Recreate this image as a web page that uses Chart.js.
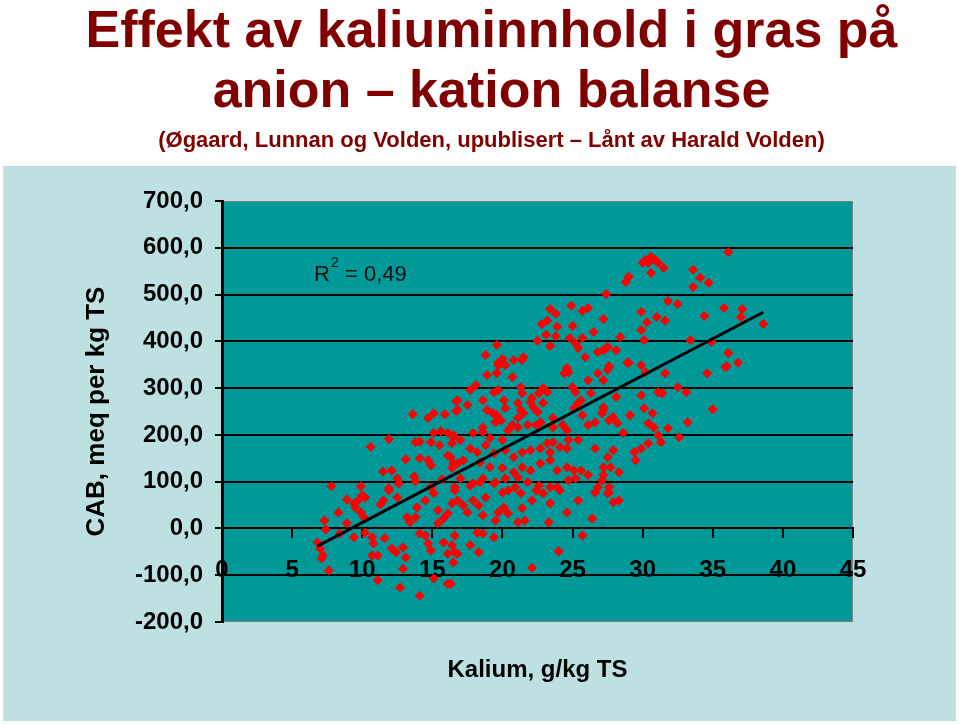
<!DOCTYPE html>
<html>
<head>
<meta charset="utf-8">
<script src="https://cdn.jsdelivr.net/npm/chart.js@4.4.1/dist/chart.umd.min.js"></script>
<style>
  html, body { margin: 0; padding: 0; background: #fff; }
  canvas { display: block; }
</style>
</head>
<body>
<canvas id="graf" width="959" height="724" style="width:959px;height:724px"></canvas>
<script>
// Kalium (g/kg TS) og CAB (meq per kg TS), lest av fra figuren
const kalium = [
  30.6,30.2,30.0,30.9,31.1,31.5,30.6,30.4,36.1,29.0,
  28.8,33.6,34.1,34.7,33.6,27.4,31.8,32.5,29.9,35.8,
  37.1,37.0,34.4,31.0,31.6,30.3,27.2,38.6,29.9,28.4,
  30.1,33.4,34.9,27.5,28.1,27.2,36.1,36.8,36.0,29.0,
  29.9,27.6,
  23.4,23.8,24.9,25.7,26.1,23.2,22.8,23.9,25.0,26.5,
  23.1,23.8,22.5,23.4,24.8,25.2,25.7,25.4,25.9,26.8,
  27.4,19.6,18.8,20.0,21.5,19.7,24.6,
  13.6,14.7,15.1,15.9,16.7,16.7,11.9,10.6,13.8,14.1,
  14.9,15.1,15.6,16.1,16.5,15.5,16.4,13.1,14.1,14.7,
  14.9,16.1,16.5,16.4,11.5,12.1,12.5,12.6,13.7,15.7,
  7.8,9.9,11.9,14.9,16.6,
  13.8,8.9,9.4,9.7,10.0,10.2,9.5,9.9,10.1,11.3,
  11.5,11.9,12.5,8.3,7.3,7.4,8.9,8.4,9.4,10.2,
  10.7,10.8,11.6,6.8,7.0,7.2,7.1,10.7,11.1,12.1,
  12.4,12.9,13.1,12.9,11.1,12.7,14.1,7.6,13.2,13.4,
  13.8,13.9,14.5,15.1,15.4,15.8,15.4,16.1,16.4,16.6,
  14.1,14.5,14.7,14.9,15.8,16.1,16.6,16.5,15.1,16.1,
  19.7,20.2,20.8,21.4,18.9,19.6,20.7,18.1,17.7,19.4,
  19.7,21.3,21.4,22.9,23.2,22.6,24.4,24.7,25.0,25.2,
  26.3,26.8,27.5,26.1,16.8,16.8,17.5,18.6,18.9,19.3,
  19.6,20.1,20.2,19.9,19.5,21.1,21.3,21.5,22.0,22.2,
  22.5,22.1,22.9,21.1,20.7,20.4,21.1,21.8,22.4,22.7,
  23.6,23.6,24.3,24.6,25.1,25.4,25.6,25.7,26.1,26.6,
  27.1,27.2,27.6,16.5,17.0,17.9,18.6,18.6,19.1,20.0,
  17.7,18.2,18.8,19.4,20.2,20.8,21.4,22.0,22.7,23.2,
  23.6,23.4,24.1,24.6,25.4,24.7,26.6,27.5,16.3,16.8,
  17.2,18.4,19.1,20.0,20.8,21.4,22.0,22.7,23.4,23.9,
  24.6,25.1,25.6,26.1,27.2,17.0,17.9,18.6,19.5,20.2,
  21.1,21.8,22.6,23.4,24.7,25.2,26.8,
  17.7,18.4,19.4,20.0,20.4,20.9,21.3,
  16.8,17.2,17.5,17.9,18.3,18.6,18.8,19.5,19.7,20.1,
  20.4,21.1,21.6,21.4,22.1,22.4,22.9,23.4,23.9,24.1,
  23.3,24.6,25.4,26.4,26.6,27.5,18.2,18.6,19.4,16.6,
  16.4,17.7,16.8,18.3,22.1,24.0,25.7,16.3,
  28.9,30.2,31.6,27.2,34.6,35.9,28.1,29.9,31.1,31.4,
  32.5,33.1,30.1,30.7,35.0,27.2,27.9,29.1,30.4,30.8,
  31.8,33.2,32.6,31.1,31.3,28.2,28.6,27.9,29.4,29.9,
  30.4,29.5,27.7,28.3,27.2,27.1,27.6,
  27.6,27.9,28.3
]
const cab = [
  581,574,568,574,568,557,546,568,591,538,
  527,553,536,525,516,501,486,480,463,471,
  469,452,454,452,444,441,448,437,424,409,
  403,403,399,388,381,381,375,354,347,354,
  349,347,
  469,459,476,465,471,444,437,431,433,420,
  414,411,401,390,407,396,407,386,366,377,
  386,392,371,362,366,349,343,
  244,236,246,244,272,251,191,174,184,186,
  184,204,208,204,195,178,182,148,150,146,
  135,156,139,129,122,124,107,96,111,105,
  90,90,86,88,88,
  101,62,54,60,71,66,45,34,24,51,
  60,81,66,34,17,-2,11,-11,-19,-9,
  -19,-32,-21,-30,-43,-58,-64,-58,-58,-43,
  -51,-41,-62,-86,-111,-126,-144,-90,24,13,
  24,45,60,75,39,21,11,32,54,81,
  -11,-15,-32,-47,-30,-54,-51,-73,-107,-118,
  354,349,360,360,328,332,324,306,296,291,
  296,302,289,300,291,289,332,334,302,291,
  289,332,339,317,274,253,264,274,253,246,
  242,274,257,231,227,268,253,246,270,259,
  249,279,268,236,221,210,216,221,221,227,
  236,216,221,210,257,268,274,242,221,227,
  246,259,231,199,189,204,216,206,193,189,
  171,163,178,161,167,152,163,167,171,182,
  184,163,174,171,189,189,171,152,152,139,
  146,141,131,129,120,131,124,139,146,124,
  131,124,124,114,131,107,96,107,99,107,
  109,99,92,88,103,107,88,
  92,99,96,77,81,88,75,
  60,49,34,60,49,28,66,17,34,45,
  32,13,17,43,60,81,75,54,88,81,
  13,34,60,21,77,75,-9,-11,-19,-15,
  -36,-36,-54,-51,-84,-49,-15,-118,
  354,334,332,317,332,345,281,285,291,289,
  302,291,257,246,255,253,238,242,225,216,
  214,227,195,199,184,225,204,167,163,171,
  182,146,131,120,114,103,88,
  77,56,60
]

// akser
const xMin = 0, xMax = 45, xStep = 5
const yMin = -200, yMax = 700, yStep = 100

const tittel = ['Effekt av kaliuminnhold i gras på', 'anion – kation balanse']
const undertittel = '(Øgaard, Lunnan og Volden, upublisert – Lånt av Harald Volden)'
const xTittel = 'Kalium, g/kg TS'
const yTittel = 'CAB, meq per kg TS'
const r2Tekst = ' = 0,49'

const FONT = '"Liberation Sans", Arial, sans-serif'
Chart.defaults.font.family = FONT
Chart.defaults.color = '#000'

// lineær trendlinje (minste kvadraters metode)
function trendlinje(xs, ys) {
  const n = xs.length
  const mx = xs.reduce((s, v) => s + v, 0) / n
  const my = ys.reduce((s, v) => s + v, 0) / n
  let sxy = 0, sxx = 0
  for (let i = 0; i < n; i++) {
    sxy += (xs[i] - mx) * (ys[i] - my)
    sxx += (xs[i] - mx) * (xs[i] - mx)
  }
  const b = sxy / sxx, a = my - b * mx
  const x0 = Math.min(...xs), x1 = Math.max(...xs)
  return [{ x: x0, y: a + b * x0 }, { x: x1, y: a + b * x1 }]
}

const punkter = kalium.map((k, i) => ({ x: k, y: cab[i] }))

// bakgrunn: lyseblått felt og grønt plottområde
const bakgrunn = {
  id: 'bakgrunn',
  beforeDraw(chart) {
    const { ctx, chartArea: a } = chart
    ctx.save()
    ctx.fillStyle = '#bde0e3'
    ctx.fillRect(3, 166, 953, 555)
    ctx.fillStyle = '#009999'
    ctx.fillRect(a.left, a.top, a.right - a.left, a.bottom - a.top)
    ctx.strokeStyle = '#7f7f7f'
    ctx.lineWidth = 1
    ctx.strokeRect(a.left + 0.5, a.top + 0.5, a.right - a.left - 1, a.bottom - a.top - 1)
    ctx.restore()
  }
}

// x-aksetittel og R²-tekst
const tekster = {
  id: 'tekster',
  afterDraw(chart) {
    const { ctx, chartArea: a } = chart
    ctx.save()
    ctx.fillStyle = '#000'
    ctx.textBaseline = 'alphabetic'
    ctx.textAlign = 'center'
    ctx.font = 'bold 24px ' + FONT
    ctx.fillText(xTittel, (a.left + a.right) / 2, 677)

    ctx.textAlign = 'left'
    ctx.fillStyle = '#111'
    const rx = a.left + 92, ry = a.top + 80
    ctx.font = '22px ' + FONT
    ctx.fillText('R', rx, ry)
    const wR = ctx.measureText('R').width
    ctx.font = '14px ' + FONT
    ctx.fillText('2', rx + wR + 1, ry - 14)
    ctx.font = '22px ' + FONT
    ctx.fillText(r2Tekst, rx + wR + 9, ry)
    ctx.restore()
  }
}

const ctx = document.getElementById('graf').getContext('2d')

const grafen = new Chart(ctx, {
  type: 'scatter',
  data: {
    datasets: [
      {
        type: 'line',
        label: 'Trend',
        data: trendlinje(kalium, cab),
        borderColor: '#000',
        borderWidth: 3,
        pointRadius: 0,
        fill: false,
        order: 0
      },
      {
        label: 'CAB',
        data: punkter,
        pointStyle: 'rectRot',
        pointRadius: 5,
        pointBackgroundColor: '#ff0000',
        pointBorderColor: '#ff0000',
        pointBorderWidth: 0,
        order: 1
      }
    ]
  },
  options: {
    responsive: false,
    animation: false,
    layout: { padding: { left: 24, right: 0, top: 0, bottom: 102 } },
    plugins: {
      legend: { display: false },
      tooltip: { enabled: false },
      title: {
        display: true,
        text: tittel,
        color: '#800000',
        font: { size: 52, weight: 'bold', lineHeight: '60px' },
        padding: { top: 3, bottom: 0 }
      },
      subtitle: {
        display: true,
        text: undertittel,
        color: '#800000',
        font: { size: 22, weight: 'bold', lineHeight: '26px' },
        padding: { top: 5, bottom: 47 }
      }
    },
    scales: {
      x: {
        type: 'linear',
        position: { y: 0 },
        min: xMin,
        max: xMax,
        ticks: {
          stepSize: xStep,
          autoSkip: false,
          maxRotation: 0,
          padding: 19,
          color: '#000',
          font: { size: 24, weight: 'bold' }
        },
        grid: { drawOnChartArea: false, drawTicks: true, tickLength: 9, color: '#000', lineWidth: 2 },
        border: { display: true, color: '#000', width: 2 }
      },
      y: {
        type: 'linear',
        position: 'left',
        min: yMin,
        max: yMax,
        ticks: {
          stepSize: yStep,
          padding: 12,
          color: '#000',
          font: { size: 24, weight: 'bold' },
          callback: v => v.toFixed(1).replace('.', ',')
        },
        grid: {
          tickLength: 7,
          lineWidth: 2,
          color: c => (c.tick && (c.tick.value === yMax || c.tick.value === yMin)) ? 'rgba(0,0,0,0)' : '#000',
          tickColor: '#000'
        },
        border: { display: true, color: '#000', width: 3 },
        title: {
          display: true,
          text: yTittel,
          color: '#000',
          font: { size: 26, weight: 'bold' },
          padding: { top: 57, bottom: 0 }
        },
        afterFit: s => { s.width = 198 }
      },
      yr: {
        type: 'linear',
        axis: 'y',
        position: 'right',
        display: true,
        ticks: { display: false },
        grid: { display: false },
        border: { display: false },
        afterFit: s => { s.width = 106 }
      }
    }
  },
  plugins: [bakgrunn, tekster]
})
</script>
</body>
</html>
